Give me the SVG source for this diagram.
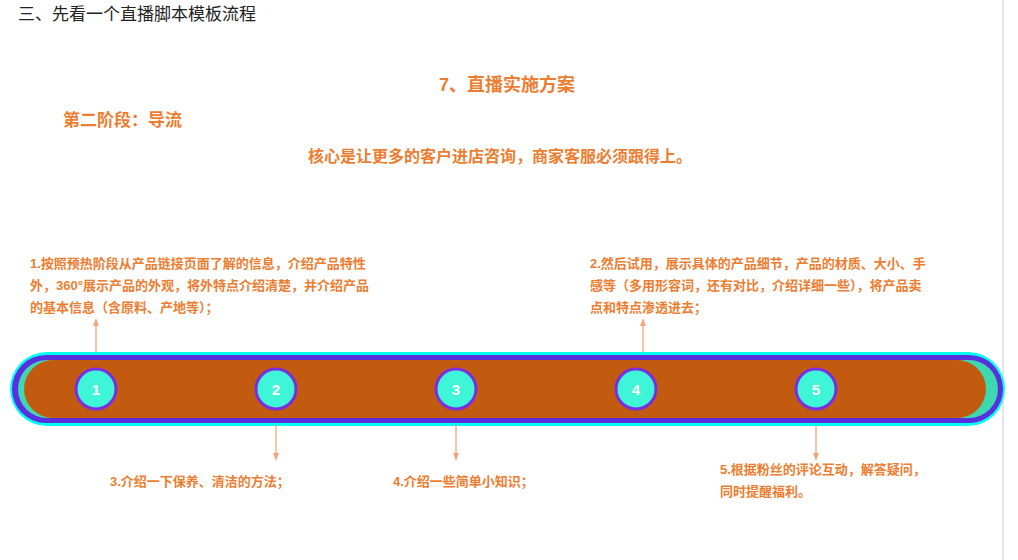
<svg xmlns="http://www.w3.org/2000/svg" width="1018" height="560" viewBox="0 0 1018 560">
<defs>
<style>
.t{font-family:"Liberation Sans","Noto Sans CJK SC",sans-serif;fill:#ED7D31;font-weight:bold}
.p{font-size:13px}
.c{stroke:#F4A67A;stroke-width:1.3;fill:none}
.n circle{fill:#3EF5D8;stroke:#7A2EE0;stroke-width:3}
.n text{font-family:"Liberation Sans",sans-serif;font-size:15px;font-weight:bold;fill:#fff;text-anchor:middle}
</style>
<marker id="a" viewBox="0 0 8 8" refX="4" refY="4" markerWidth="6" markerHeight="6" orient="auto"><path d="M0,1 L8,4 L0,7 Z" fill="#F4A67A"/></marker>
</defs>
<rect width="1018" height="560" fill="#fff"/>
<line x1="1003" y1="0" x2="1003" y2="560" stroke="#ccc"/>
<text x="18" y="20" font-family="Liberation Sans,'Noto Sans CJK SC',sans-serif" font-size="17" fill="#222">三、先看一个直播脚本模板流程</text>
<text class="t" x="507" y="91" font-size="18" text-anchor="middle">7、直播实施方案</text>
<text class="t" x="63" y="126" font-size="17">第二阶段：导流</text>
<text class="t" x="500" y="162" font-size="16" text-anchor="middle">核心是让更多的客户进店咨询，商家客服必须跟得上。</text>
<g id="bar">
<rect x="10" y="352" width="995" height="74" rx="37" fill="#00FFF0"/>
<rect x="12" y="355" width="991" height="68" rx="34" fill="#5A2FE0"/>
<rect x="18" y="360" width="980" height="58" rx="29" fill="#3ED8B0"/>
<rect x="24" y="360" width="962" height="58" rx="29" fill="#C25A10"/>
</g>
<g id="connectors">
<line class="c" x1="96" y1="352" x2="96" y2="322" marker-end="url(#a)"/>
<line class="c" x1="643" y1="352" x2="643" y2="322" marker-end="url(#a)"/>
<line class="c" x1="276" y1="425" x2="276" y2="457" marker-end="url(#a)"/>
<line class="c" x1="456" y1="425" x2="456" y2="457" marker-end="url(#a)"/>
<line class="c" x1="816" y1="425" x2="816" y2="457" marker-end="url(#a)"/>
</g>
<g id="n1" class="n"><circle cx="96" cy="389" r="20"/><text x="96" y="395">1</text></g>
<g id="n2" class="n"><circle cx="276" cy="389" r="20"/><text x="276" y="395">2</text></g>
<g id="n3" class="n"><circle cx="456" cy="389" r="20"/><text x="456" y="395">3</text></g>
<g id="n4" class="n"><circle cx="636" cy="389" r="20"/><text x="636" y="395">4</text></g>
<g id="n5" class="n"><circle cx="816" cy="389" r="20"/><text x="816" y="395">5</text></g>
<g id="t1" class="t p">
<text x="30" y="268">1.按照预热阶段从产品链接页面了解的信息，介绍产品特性</text>
<text x="30" y="290">外，360°展示产品的外观，将外特点介绍清楚，并介绍产品</text>
<text x="30" y="312">的基本信息（含原料、产地等）；</text>
</g>
<g id="t2" class="t p">
<text x="590" y="268">2.然后试用，展示具体的产品细节，产品的材质、大小、手</text>
<text x="590" y="290">感等（多用形容词，还有对比，介绍详细一些），将产品卖</text>
<text x="590" y="312">点和特点渗透进去；</text>
</g>
<text id="t3" class="t p" x="110" y="486">3.介绍一下保养、清洁的方法；</text>
<text id="t4" class="t p" x="393" y="486">4.介绍一些简单小知识；</text>
<g id="t5" class="t p">
<text x="720" y="474">5.根据粉丝的评论互动，解答疑问，</text>
<text x="720" y="496">同时提醒福利。</text>
</g>
</svg>
